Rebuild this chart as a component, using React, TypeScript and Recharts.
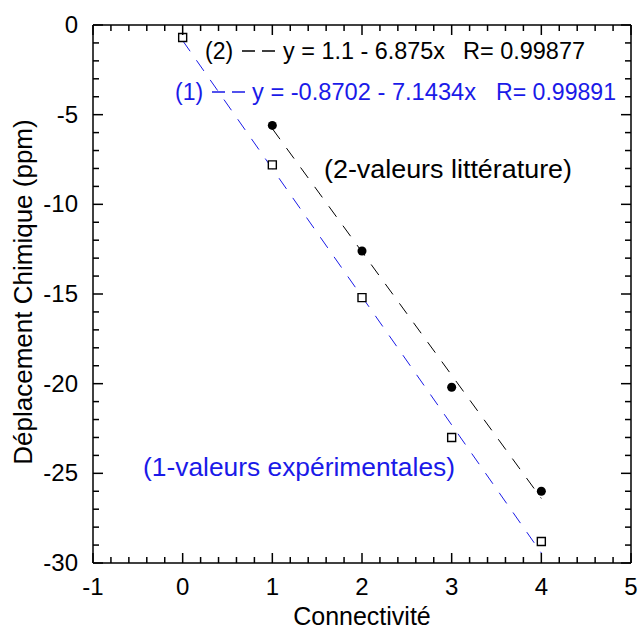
import React from "react";
import {
  ScatterChart,
  Scatter,
  XAxis,
  YAxis,
  ZAxis,
  ReferenceLine,
} from "recharts";

const BLUE = "#1a1ae8";
const FONT = "'Liberation Sans', Arial, sans-serif";

// measured data points
const litPoints = [
  { x: 1, y: -5.6 },
  { x: 2, y: -12.6 },
  { x: 3, y: -20.2 },
  { x: 4, y: -26.0 },
];
const expPoints = [
  { x: 0, y: -0.7 },
  { x: 1, y: -7.8 },
  { x: 2, y: -15.2 },
  { x: 3, y: -23.0 },
  { x: 4, y: -28.8 },
];

// fitted lines (end points)
const fitLit = [
  { x: 1, y: -5.78 },
  { x: 4, y: -26.4 },
];
const fitExp = [
  { x: 0, y: -0.87 },
  { x: 4, y: -29.44 },
];

const X_LABELS = [-1, 0, 1, 2, 3, 4, 5];
const X_MINOR = [
  -0.8, -0.6, -0.4, -0.2, 0.2, 0.4, 0.6, 0.8, 1.2, 1.4, 1.6, 1.8, 2.2, 2.4, 2.6,
  2.8, 3.2, 3.4, 3.6, 3.8, 4.2, 4.4, 4.6, 4.8,
];
const Y_LABELS = [0, -5, -10, -15, -20, -25, -30];
const Y_MINOR = [
  -1, -2, -3, -4, -6, -7, -8, -9, -11, -12, -13, -14, -16, -17, -18, -19, -21,
  -22, -23, -24, -26, -27, -28, -29,
];

const W = 638;
const H = 631;
const M = { top: 25, right: 7, bottom: 0, left: 0 };
const Y_AXIS_W = 93;
const X_AXIS_H = 68;
// plot box, same numbers the chart uses for its layout
const PL = M.left + Y_AXIS_W;
const PR = W - M.right;
const PT = M.top;
const PB = H - M.bottom - X_AXIS_H;
const px = (v: number) => PL + ((v + 1) / 6) * (PR - PL);
const py = (v: number) => PT + (-v / 30) * (PB - PT);

const XTick = (props: any) => {
  const { x, y, payload } = props;
  return (
    <text x={x} y={y + 32} textAnchor="middle" fontSize={24} fontFamily={FONT} fill="#000">
      {payload.value}
    </text>
  );
};

const YTick = (props: any) => {
  const { x, y, payload } = props;
  return (
    <text x={x - 15} y={y + 8} textAnchor="end" fontSize={24} fontFamily={FONT} fill="#000">
      {payload.value}
    </text>
  );
};

const noShape = () => <g />;

// inward tick marks on all four sides of the frame
function FrameTicks() {
  const s = { stroke: "#000", strokeWidth: 1.5 };
  const out: React.ReactNode[] = [];
  const xt = [...X_LABELS.map((v) => [v, 10]), ...X_MINOR.map((v) => [v, 6])];
  const yt = [...Y_LABELS.map((v) => [v, 10]), ...Y_MINOR.map((v) => [v, 6])];
  xt.forEach(([v, len]) => {
    const x = px(v);
    out.push(<line key={"b" + v} x1={x} y1={PB} x2={x} y2={PB - len} {...s} />);
    out.push(<line key={"t" + v} x1={x} y1={PT} x2={x} y2={PT + len} {...s} />);
  });
  yt.forEach(([v, len]) => {
    const y = py(v);
    out.push(<line key={"l" + v} x1={PL} y1={y} x2={PL + len} y2={y} {...s} />);
    out.push(<line key={"r" + v} x1={PR} y1={y} x2={PR - len} y2={y} {...s} />);
  });
  return <g>{out}</g>;
}

export default function App() {
  return (
    <div style={{ position: "absolute", left: 0, top: 0, width: W, height: H, background: "#fff" }}>
      <ScatterChart width={W} height={H} margin={M}>
        <XAxis
          type="number"
          dataKey="x"
          domain={[-1, 5]}
          ticks={X_LABELS}
          interval={0}
          allowDataOverflow
          height={X_AXIS_H}
          tickSize={0}
          tickMargin={0}
          tickLine={false}
          tick={<XTick />}
          axisLine={{ stroke: "#000", strokeWidth: 1.5 }}
        />
        <YAxis
          type="number"
          dataKey="y"
          domain={[-30, 0]}
          ticks={Y_LABELS}
          interval={0}
          allowDataOverflow
          width={Y_AXIS_W}
          tickSize={0}
          tickMargin={0}
          tickLine={false}
          tick={<YTick />}
          axisLine={{ stroke: "#000", strokeWidth: 1.5 }}
        />
        <ZAxis range={[105, 105]} />
        <ReferenceLine y={0} stroke="#000" strokeWidth={1.5} />
        <ReferenceLine x={5} stroke="#000" strokeWidth={1.5} />

        <Scatter
          data={fitExp}
          line={{ stroke: BLUE, strokeWidth: 1, strokeDasharray: "13 11" }}
          shape={noShape}
          isAnimationActive={false}
        />
        <Scatter
          data={fitLit}
          line={{ stroke: "#000", strokeWidth: 1, strokeDasharray: "13 11" }}
          shape={noShape}
          isAnimationActive={false}
        />
        <Scatter
          data={expPoints}
          shape="square"
          fill="#fff"
          stroke="#000"
          strokeWidth={1.4}
          isAnimationActive={false}
        />
        <Scatter data={litPoints} shape="circle" fill="#000" isAnimationActive={false} />
      </ScatterChart>
      <svg
        width={W}
        height={H}
        style={{ position: "absolute", left: 0, top: 0, pointerEvents: "none" }}
        fontFamily={FONT}
      >
        <FrameTicks />

        <text x={205} y={59} fontSize={23} fill="#000">(2)</text>
        <line x1={242} y1={51} x2={278} y2={51} stroke="#000" strokeWidth={1.3} strokeDasharray="13 7" />
        <text x={283} y={59} fontSize={23} fill="#000" textLength={162} lengthAdjust="spacingAndGlyphs">
          y = 1.1 - 6.875x
        </text>
        <text x={463} y={59} fontSize={23} fill="#000" textLength={122} lengthAdjust="spacingAndGlyphs">
          R= 0.99877
        </text>

        <text x={175} y={100} fontSize={23} fill={BLUE}>(1)</text>
        <line x1={212} y1={92} x2={248} y2={92} stroke={BLUE} strokeWidth={1.3} strokeDasharray="13 7" />
        <text x={252} y={100} fontSize={23} fill={BLUE} textLength={224} lengthAdjust="spacingAndGlyphs">
          y = -0.8702 - 7.1434x
        </text>
        <text x={496} y={100} fontSize={23} fill={BLUE} textLength={120} lengthAdjust="spacingAndGlyphs">
          R= 0.99891
        </text>

        <text x={324} y={178} fontSize={26} fill="#000" textLength={248} lengthAdjust="spacingAndGlyphs">
          (2-valeurs littérature)
        </text>
        <text x={143} y={476} fontSize={26} fill={BLUE} textLength={312} lengthAdjust="spacingAndGlyphs">
          (1-valeurs expérimentales)
        </text>

        <text x={362} y={625} fontSize={25} fill="#000" textAnchor="middle">
          Connectivité
        </text>
        <text
          x={0}
          y={0}
          fontSize={26}
          fill="#000"
          textAnchor="middle"
          transform="translate(32 292) rotate(-90)"
        >
          Déplacement Chimique (ppm)
        </text>
      </svg>
    </div>
  );
}
